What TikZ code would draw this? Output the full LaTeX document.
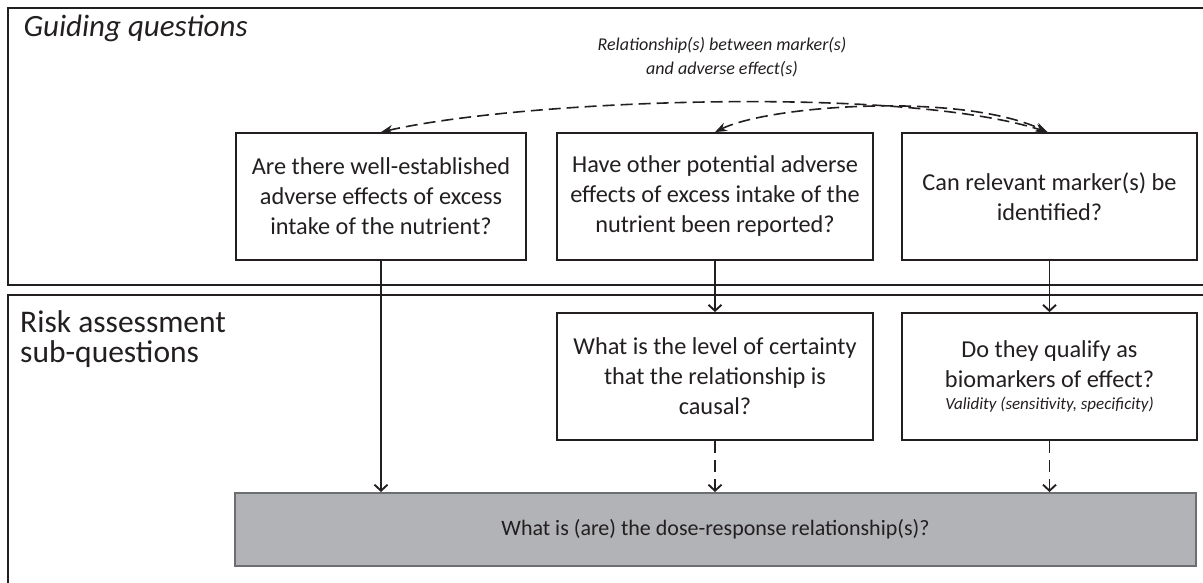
\documentclass[tikz,border=0pt]{standalone}
\usepackage{fontspec}
\setmainfont{Carlito}
\usetikzlibrary{arrows.meta}

\definecolor{ink}{RGB}{35,31,32}
\definecolor{doseFill}{RGB}{178,179,182}
\definecolor{doseLine}{RGB}{109,110,113}

\begin{document}
\begin{tikzpicture}[
		x=1pt, y=-1pt,
		box/.style={draw=ink, line width=1.8pt, align=center, inner sep=0pt, minimum height=127pt, text=ink, font=\fontsize{24.3}{30}\selectfont},
		panel/.style={draw=ink, line width=1.8pt},
		arrow/.style={-{Straight Barb[length=6pt,width=13pt]}, draw=ink, line width=1.9pt},
		link/.style={{Stealth[length=12pt,width=9pt]}-{Stealth[length=12pt,width=9pt]}, draw=ink, line width=1.6pt, dash pattern=on 12pt off 6pt}
		]
		\useasboundingbox (0,0) rectangle (1203,582);
		
		% panels
		\draw[panel] (1215,8) -- (8,8) -- (8,285) -- (1215,285);
		\draw[panel] (1215,295) -- (8,295) -- (8,590);
		\node[anchor=base west, text=ink, font=\fontsize{31}{34}\itshape] (guide) at (20,36) {Guiding questions};
		\node[anchor=north west, text=ink, align=left, inner sep=0pt, font=\fontsize{31.5}{30}\selectfont] (risk) at (20,310) {Risk assessment\\sub-questions};
		
		% manual positions
		\node[box, minimum width=290pt] (q1) at (381,196.5)
		{Are there well-established\\adverse effects of excess\\intake of the nutrient?};
		\node[box, minimum width=316pt] (q2) at (715,196.5)
		{Have other potential adverse\\effects of excess intake of the\\nutrient been reported?};
		\node[box, minimum width=295pt] (q3) at (1049.5,196.5)
		{Can relevant marker(s) be\\identified?};
		
		\node[box, minimum width=316pt] (s2) at (715,376.5)
		{What is the level of certainty\\that the relationship is\\causal?};
		\node[box, minimum width=295pt] (s3) at (1049.5,376.5)
		{Do they qualify as\\biomarkers of effect?\\[-8pt]{\fontsize{17}{20}\itshape Validity (sensitivity, specificity)}};
		
		\node[box, minimum width=961pt, minimum height=73pt, fill=doseFill, draw=doseLine, line width=2pt, font=\fontsize{22}{26}\selectfont] (dose) at (715.5,529.5)
		{What is (are) the dose-response relationship(s)?};
		
		\node[text=ink, align=center, font=\fontsize{18}{24}\itshape] (rel) at (722,57)
		{Relationship(s) between marker(s)\\and adverse effect(s)};
		
		% arrows
		\draw[arrow] (q1.south) -- (q1.south |- dose.north);
		\draw[arrow] (q2) -- (s2);
		\draw[arrow] (q3) -- (s3);
		\draw[arrow, dash pattern=on 12pt off 7pt] (s2) -- (dose.north -| s2.south);
		\draw[arrow, dash pattern=on 12pt off 7pt] (s3) -- (dose.north -| s3.south);
		
		\draw[link] (q1.north) .. controls (520,100) and (900,85) .. ([xshift=-2pt]q3.north);
		\draw[link] (q2.north) .. controls (770,105) and (960,92) .. ([xshift=-2pt]q3.north);
	\end{tikzpicture}
\end{document}
